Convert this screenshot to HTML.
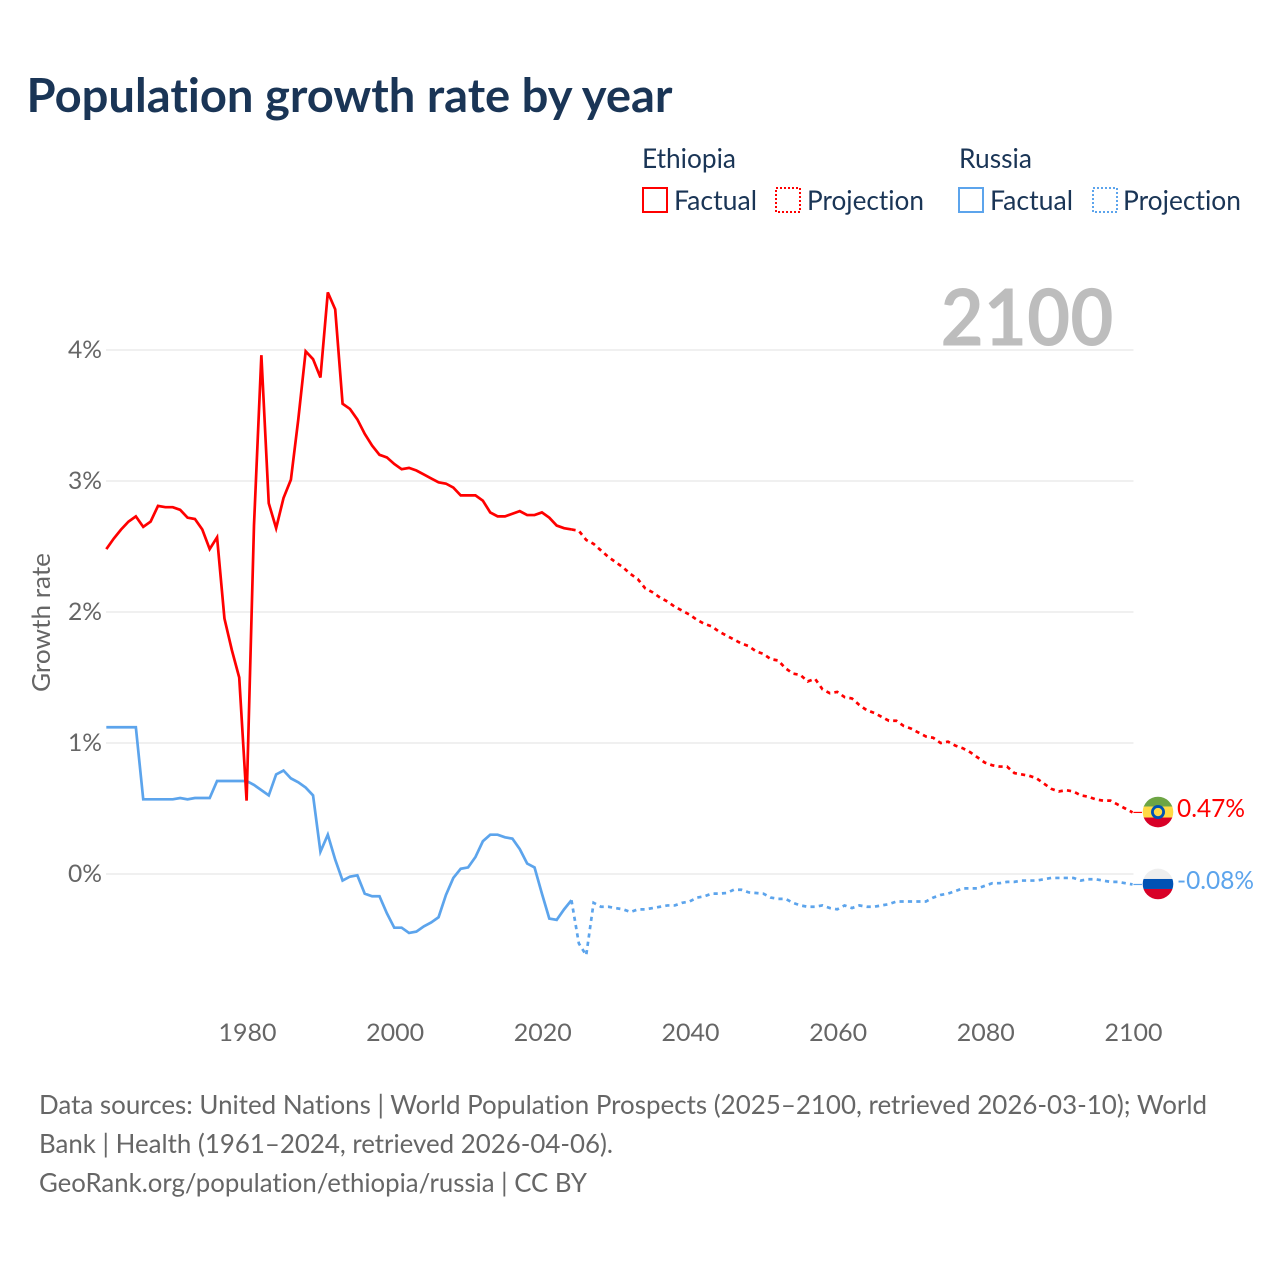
<!DOCTYPE html>
<html lang="en">
<head>
<meta charset="utf-8">
<title>Population growth rate by year</title>
<style>
html,body{margin:0;padding:0;background:#fff;width:1280px;height:1280px;overflow:hidden}
svg{display:block;font-family:"Lato","Carlito","Liberation Sans",sans-serif;font-variant-ligatures:none}
</style>
</head>
<body>
<svg id="chart" xmlns="http://www.w3.org/2000/svg" width="1280" height="1280" viewBox="0 0 1280 1280">
  <rect x="0" y="0" width="1280" height="1280" fill="#ffffff"/>
  <text x="26.5" y="112" font-size="47" font-weight="700" fill="#1a3556" textLength="646" lengthAdjust="spacingAndGlyphs">Population growth rate by year</text>

  <g font-size="27" fill="#1a3556">
    <text x="642" y="168" textLength="94" lengthAdjust="spacingAndGlyphs">Ethiopia</text>
    <text x="959" y="168" textLength="73" lengthAdjust="spacingAndGlyphs">Russia</text>
    <g>
      <rect x="643" y="188" width="24" height="24" fill="none" stroke="#ff0000" stroke-width="2"/>
      <text x="674" y="210" textLength="83" lengthAdjust="spacingAndGlyphs">Factual</text>
    </g>
    <g>
      <rect x="776" y="188" width="24" height="24" fill="none" stroke="#ff0000" stroke-width="2" stroke-dasharray="2 2"/>
      <text x="807" y="210" textLength="117" lengthAdjust="spacingAndGlyphs">Projection</text>
    </g>
    <g>
      <rect x="959" y="188" width="24" height="24" fill="none" stroke="#5ca4ec" stroke-width="2"/>
      <text x="990" y="210" textLength="83" lengthAdjust="spacingAndGlyphs">Factual</text>
    </g>
    <g>
      <rect x="1093" y="188" width="24" height="24" fill="none" stroke="#5ca4ec" stroke-width="2" stroke-dasharray="2 2"/>
      <text x="1123" y="210" textLength="118" lengthAdjust="spacingAndGlyphs">Projection</text>
    </g>
  </g>

  <g id="grid"></g>
  <g id="yticks" font-size="24" fill="#666666"></g>
  <g id="xticks" font-size="24" fill="#666666"></g>
  <text transform="translate(50,622.5) rotate(-90)" text-anchor="middle" font-size="25" fill="#666666" textLength="139" lengthAdjust="spacingAndGlyphs">Growth rate</text>
  <text x="940.5" y="345.5" font-size="79" font-weight="700" fill="#bdbdbd" textLength="173" lengthAdjust="spacingAndGlyphs">2100</text>

  <g id="series"></g>

  <defs>
    <clipPath id="flag-clip-ethiopia"><circle id="clip-eth" cx="1158" cy="812" r="15.3"/></clipPath>
    <clipPath id="flag-clip-russia"><circle id="clip-rus" cx="1158" cy="884" r="15.3"/></clipPath>
  </defs>
  <g id="flag-ethiopia" clip-path="url(#flag-clip-ethiopia)">
    <rect x="1142" y="796" width="32" height="10.5" fill="#6da544"/>
    <rect x="1142" y="806.5" width="32" height="11" fill="#ffda44"/>
    <rect x="1142" y="817.5" width="32" height="11" fill="#d80027"/>
    <circle cx="1158" cy="812" r="7" fill="#0052b4"/>
    <circle cx="1158" cy="812" r="4.2" fill="#ffda44"/>
  </g>
  <g id="flag-russia" clip-path="url(#flag-clip-russia)">
    <rect x="1142" y="868" width="32" height="11" fill="#eeeeee"/>
    <rect x="1142" y="879" width="32" height="10" fill="#0052b4"/>
    <rect x="1142" y="889" width="32" height="11" fill="#d80027"/>
  </g>
  <text id="label-eth" x="1177" y="817" font-size="25" fill="#ff0000" textLength="68" lengthAdjust="spacingAndGlyphs"></text>
  <text id="label-rus" x="1177" y="889" font-size="25" fill="#5ca4ec" textLength="77" lengthAdjust="spacingAndGlyphs"></text>

  <g font-size="26" fill="#666666">
    <text x="39" y="1114" textLength="1168" lengthAdjust="spacingAndGlyphs">Data sources: United Nations | World Population Prospects (2025–2100, retrieved 2026-03-10); World</text>
    <text x="39" y="1153" textLength="574" lengthAdjust="spacingAndGlyphs">Bank | Health (1961–2024, retrieved 2026-04-06).</text>
    <text x="39" y="1192" textLength="548" lengthAdjust="spacingAndGlyphs">GeoRank.org/population/ethiopia/russia | CC BY</text>
  </g>
</svg>
<script>
const factualStartYear = 1961;
const projectionStartYear = 2024;
const xTickYears = [1980, 2000, 2020, 2040, 2060, 2080, 2100];
const yTickValues = [0, 1, 2, 3, 4];
const yTickLabels = ['0%', '1%', '2%', '3%', '4%'];

const ethiopiaFactual = [2.48,2.56,2.63,2.69,2.73,2.65,2.69,2.81,2.80,2.80,2.78,2.72,2.71,2.63,2.48,2.57,1.95,1.71,1.50,0.56,2.66,3.96,2.83,2.64,2.87,3.01,3.47,3.99,3.93,3.79,4.44,4.31,3.59,3.55,3.47,3.36,3.27,3.20,3.18,3.13,3.09,3.10,3.08,3.05,3.02,2.99,2.98,2.95,2.89,2.89,2.89,2.85,2.76,2.73,2.73,2.75,2.77,2.74,2.74,2.76,2.72,2.66,2.64,2.63];
const ethiopiaProjection = [2.63,2.62,2.55,2.52,2.47,2.42,2.38,2.34,2.29,2.25,2.18,2.15,2.11,2.08,2.04,2.01,1.98,1.94,1.91,1.89,1.85,1.82,1.79,1.76,1.74,1.70,1.68,1.64,1.63,1.57,1.53,1.52,1.47,1.49,1.41,1.38,1.39,1.35,1.34,1.29,1.25,1.23,1.20,1.17,1.17,1.13,1.11,1.08,1.05,1.04,1.00,1.01,0.98,0.96,0.93,0.89,0.85,0.83,0.82,0.82,0.77,0.76,0.75,0.73,0.69,0.65,0.63,0.64,0.63,0.60,0.59,0.57,0.56,0.56,0.53,0.50,0.47];
const russiaFactual = [1.12,1.12,1.12,1.12,1.12,0.57,0.57,0.57,0.57,0.57,0.58,0.57,0.58,0.58,0.58,0.71,0.71,0.71,0.71,0.71,0.68,0.64,0.60,0.76,0.79,0.73,0.70,0.66,0.60,0.17,0.30,0.11,-0.05,-0.02,-0.01,-0.15,-0.17,-0.17,-0.30,-0.41,-0.41,-0.45,-0.44,-0.40,-0.37,-0.33,-0.16,-0.03,0.04,0.05,0.13,0.25,0.30,0.30,0.28,0.27,0.19,0.08,0.05,-0.15,-0.34,-0.35,-0.27,-0.20];
const russiaProjection = [-0.20,-0.53,-0.62,-0.22,-0.25,-0.25,-0.26,-0.27,-0.29,-0.27,-0.27,-0.26,-0.25,-0.24,-0.24,-0.22,-0.21,-0.18,-0.17,-0.15,-0.15,-0.145,-0.12,-0.12,-0.14,-0.145,-0.15,-0.18,-0.19,-0.19,-0.22,-0.24,-0.25,-0.25,-0.24,-0.26,-0.27,-0.24,-0.26,-0.24,-0.25,-0.25,-0.24,-0.23,-0.21,-0.21,-0.21,-0.21,-0.21,-0.18,-0.16,-0.15,-0.13,-0.11,-0.11,-0.11,-0.09,-0.07,-0.07,-0.06,-0.06,-0.05,-0.05,-0.05,-0.04,-0.03,-0.03,-0.03,-0.03,-0.05,-0.04,-0.04,-0.05,-0.06,-0.06,-0.07,-0.08];

const NS = 'http://www.w3.org/2000/svg';
const xOrigin = 246.6, xOriginYear = 1980, xPerYear = 7.383;
const yOrigin = 874, yPerUnit = 131;
const tickX = 247.5;
const RED = '#ff0000', BLUE = '#5ca4ec';

function xScale(year) { return xOrigin + (year - xOriginYear) * xPerYear; }
function xTickScale(year) { return tickX + (year - xOriginYear) * xPerYear; }
function yScale(value) { return yOrigin - value * yPerUnit; }
function seriesPath(startYear, values) {
  return values.map(function (v, i) {
    return (i ? 'L' : 'M') + xScale(startYear + i).toFixed(2) + ' ' + yScale(v).toFixed(2);
  }).join(' ');
}

const grid = document.getElementById('grid');
const yticks = document.getElementById('yticks');
const xticks = document.getElementById('xticks');
const seriesGroup = document.getElementById('series');

yTickValues.forEach(function (v, i) {
  const line = document.createElementNS(NS, 'line');
  
  
  line.setAttribute('x1', 106);
  line.setAttribute('x2', xTickScale(2100));
  line.setAttribute('y1', yScale(v));
  line.setAttribute('y2', yScale(v));
  line.setAttribute('stroke', '#ececec');
  line.setAttribute('stroke-width', 1.5);
  grid.appendChild(line);

  const t = document.createElementNS(NS, 'text');
  
  
  t.setAttribute('x', 102);
  t.setAttribute('y', yScale(v) + 8);
  t.setAttribute('text-anchor', 'end');
  t.setAttribute('textLength', 34);
  t.setAttribute('lengthAdjust', 'spacingAndGlyphs');
  t.textContent = yTickLabels[i];
  yticks.appendChild(t);
});

xTickYears.forEach(function (year) {
  const t = document.createElementNS(NS, 'text');
  
  
  t.setAttribute('x', xTickScale(year));
  t.setAttribute('y', 1041);
  t.setAttribute('text-anchor', 'middle');
  t.setAttribute('textLength', 58);
  t.setAttribute('lengthAdjust', 'spacingAndGlyphs');
  t.textContent = String(year);
  xticks.appendChild(t);
});

function addLine(startYear, values, color, dashed, name) {
  const p = document.createElementNS(NS, 'path');
  
  
  p.setAttribute('d', seriesPath(startYear, values));
  p.setAttribute('fill', 'none');
  p.setAttribute('stroke', color);
  p.setAttribute('stroke-width', 2.7);
  if (dashed) p.setAttribute('stroke-dasharray', '4.2 4.2');
  seriesGroup.appendChild(p);
}
function addLeader(value, color, name) {
  const l = document.createElementNS(NS, 'line');
  
  
  l.setAttribute('x1', xTickScale(2100));
  l.setAttribute('x2', 1142);
  l.setAttribute('y1', yScale(value));
  l.setAttribute('y2', yScale(value));
  l.setAttribute('stroke', color);
  l.setAttribute('stroke-width', 1.2);
  seriesGroup.appendChild(l);
}

addLine(projectionStartYear, russiaProjection, BLUE, true, 'russia-projection-line');
addLine(factualStartYear, russiaFactual, BLUE, false, 'russia-factual-line');
addLine(projectionStartYear, ethiopiaProjection, RED, true, 'ethiopia-projection-line');
addLine(factualStartYear, ethiopiaFactual, RED, false, 'ethiopia-factual-line');

const ethEnd = ethiopiaProjection[ethiopiaProjection.length - 1];
const rusEnd = russiaProjection[russiaProjection.length - 1];
addLeader(ethEnd, RED, 'ethiopia-end-leader');
addLeader(rusEnd, BLUE, 'russia-end-leader');

document.getElementById('label-eth').textContent = ethEnd.toFixed(2) + '%';
document.getElementById('label-rus').textContent = rusEnd.toFixed(2) + '%';
document.getElementById('label-eth').setAttribute('y', yScale(ethEnd) + 4.6);
document.getElementById('label-rus').setAttribute('y', yScale(rusEnd) + 4.6);
document.getElementById('flag-ethiopia').setAttribute('transform', 'translate(0,' + (yScale(ethEnd) - 812.4) + ')');
document.getElementById('flag-russia').setAttribute('transform', 'translate(0,' + (yScale(rusEnd) - 884.5) + ')');
</script>
</body>
</html>
